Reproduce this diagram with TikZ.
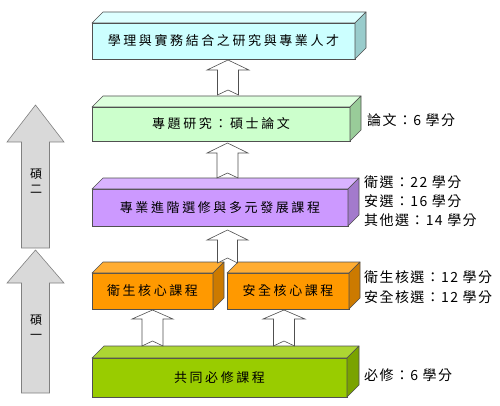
\documentclass[tikz,border=0pt]{standalone}
\usepackage{fontspec}
\setmainfont{Noto Sans CJK TC}
\newfontfamily\boxfont{Noto Sans CJK TC}[LetterSpace=20]
\newfontfamily\labfont{Noto Sans CJK TC}[LetterSpace=10]
\definecolor{cyF}{HTML}{CCFFFF}\definecolor{cyT}{HTML}{DDFFFF}\definecolor{cyS}{HTML}{99CCCC}
\definecolor{lgF}{HTML}{CCFFCC}\definecolor{lgT}{HTML}{DDFFDD}\definecolor{lgS}{HTML}{99CC99}
\definecolor{puF}{HTML}{CC99FF}\definecolor{puT}{HTML}{D9B3FF}\definecolor{puS}{HTML}{A37ACC}
\definecolor{orF}{HTML}{FF9900}\definecolor{orT}{HTML}{FFAD33}\definecolor{orS}{HTML}{CC7A00}
\definecolor{liF}{HTML}{99CC00}\definecolor{liT}{HTML}{ADD633}\definecolor{liS}{HTML}{7AA300}
\definecolor{edge}{HTML}{505050}
\definecolor{grayarrow}{HTML}{D9D9D9}
\tikzset{
  slabfront/.style={draw=edge, line width=0.6pt, outer sep=0pt, inner sep=0pt, font=\boxfont\fontsize{13pt}{15pt}\selectfont, text=black},
  slabedge/.style={draw=edge, line width=0.6pt, line join=round},
  blk/.style={draw=edge, line width=0.6pt, fill=white, line join=miter},
  grayblk/.style={draw=gray, line width=0.6pt, fill=grayarrow},
  lab/.style={anchor=west, inner sep=0pt, font=\labfont\fontsize{14pt}{16pt}\selectfont},
  vlab/.style={align=center, inner sep=0pt, font=\fontsize{12pt}{15pt}\selectfont}
}
% name, x1, y1, x2, y2, depth, colour prefix, text
\newcommand\slab[8]{%
  \node[slabfront, fill=#7F, minimum width={(#4-#2)*1pt}, minimum height={(#5-#3)*1pt}] (#1) at ({(#2+#4)/2},{(#3+#5)/2}) {#8};
  \draw[slabedge, fill=#7T] (#1.north west) -- ++(#6,-#6) -- ([shift={(#6pt,#6pt)}]#1.north east) -- (#1.north east) -- cycle;
  \draw[slabedge, fill=#7S] (#1.north east) -- ([shift={(#6pt,#6pt)}]#1.north east) -- ([shift={(#6pt,#6pt)}]#1.south east) -- (#1.south east) -- cycle;
}
% cx, tip, head base, tail, head half width, shaft half width, notch
\newcommand\blockup[8]{%
  \draw[#8] (#1,#2) -- ({#1+#5},#3) -- ({#1+#6},#3) -- ({#1+#6},#4) -- (#1,{#4-#7}) -- ({#1-#6},#4) -- ({#1-#6},#3) -- ({#1-#5},#3) -- cycle;
}
\begin{document}
\begin{tikzpicture}[x=1pt,y=-1pt]
\useasboundingbox (0,0) rectangle (500,406);
% left gray arrows
\blockup{35.5}{105}{142}{248}{28.5}{14}{0}{grayblk}
\blockup{35.5}{250}{283}{393}{28.5}{14}{0}{grayblk}
\node[vlab] (m2) at (36,181) {碩\\二};
\node[vlab] (m1) at (36,327) {碩\\一};
% boxes
\slab{top}{92}{23}{355}{59}{11}{cy}{學理與實務結合之研究與專業人才}
\slab{thesis}{92}{107}{350}{141}{11}{lg}{專題研究：碩士論文}
\slab{adv}{92}{189}{348}{226}{11}{pu}{專業進階選修與多元發展課程}
\slab{hyg}{92}{273}{213}{309}{11}{or}{衛生核心課程}
\slab{saf}{227}{273}{349}{309}{11}{or}{安全核心課程}
\slab{base}{92}{358}{347}{397}{12}{li}{共同必修課程}
% white block arrows
\blockup{228}{60}{70}{95}{21}{10.5}{5}{blk}
\blockup{227.5}{143}{153}{178}{20.5}{10.5}{5}{blk}
\blockup{227.5}{230}{240}{263}{20.5}{10}{5}{blk}
\blockup{152.5}{310}{319}{346}{20.5}{10.5}{5}{blk}
\blockup{284}{310}{319}{346}{21}{10.5}{5}{blk}
% labels
\node[lab] (l1) at (367,120) {論文：6 學分};
\node[lab] (l2) at (364,182) {衛選：22 學分};
\node[lab] (l3) at (364,201) {安選：16 學分};
\node[lab] (l4) at (364,220) {其他選：14 學分};
\node[lab] (l5) at (364,277) {衛生核選：12 學分};
\node[lab] (l6) at (364,297) {安全核選：12 學分};
\node[lab] (l7) at (364,375) {必修：6 學分};
\end{tikzpicture}
\end{document}
